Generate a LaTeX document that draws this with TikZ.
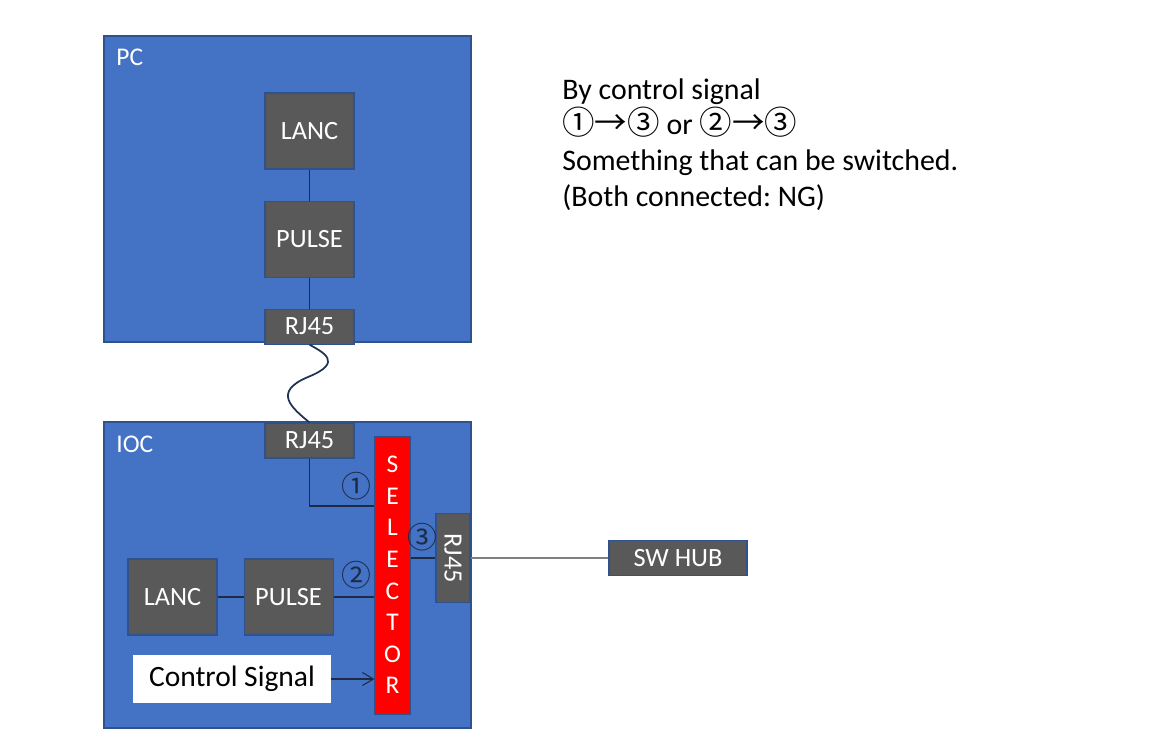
\documentclass[tikz,border=0pt]{standalone}
\usepackage{fontspec}
\setmainfont{Carlito}
\newfontfamily\circfont{Noto Sans CJK JP}
\usetikzlibrary{arrows.meta, positioning, calc}
\definecolor{devBlue}{HTML}{4472C4}
\definecolor{devEdge}{HTML}{2F528F}
\definecolor{modGray}{HTML}{595959}
\definecolor{selRed}{HTML}{FF0000}
\definecolor{wireDark}{HTML}{1F2A44}
\frenchspacing

\begin{document}
\begin{tikzpicture}[x=0.02cm, y=-0.02cm,
    device/.style={rectangle, draw=devEdge, fill=devBlue, line width=0.8pt,
                 minimum width=7.34cm, minimum height=6.12cm, inner sep=0pt},
    module/.style={rectangle, draw=devEdge, fill=modGray, line width=0.6pt,
                 minimum width=1.78cm, minimum height=1.52cm, inner sep=0pt,
                 font=\fontsize{15}{17}\selectfont\color{white}},
    port/.style={module, minimum height=0.7cm},
    devlabel/.style={anchor=west, inner sep=0pt,
                 font=\fontsize{14.5}{16}\selectfont\color{white}},
    numlabel/.style={inner sep=0pt, font=\circfont\fontsize{17}{19}\selectfont\color{wireDark}},
    wire/.style={draw=wireDark, line width=0.6pt},
  ]
    \useasboundingbox (0,0) rectangle (1152,748);

    % PC side
    \node[device] (pc) at (287.5,189) {};
    \node[devlabel] at (116,57) {PC};
    \node[module] (lanc1) at (309.5,131) {LANC};
    \node[module, below=0.62cm of lanc1] (pulse1) {PULSE};
    \node[port, below=0.62cm of pulse1] (rj1) {RJ45};
    \draw[wire] (lanc1) -- (pulse1);
    \draw[wire] (pulse1) -- (rj1);

    % IOC side
    \node[device] (ioc) at (287.5,575) {};
    \node[devlabel] at (116,444) {IOC};
    \node[port] (rj2) at (309.5,440.5) {RJ45};
    \node[rectangle, draw=devEdge, fill=selRed, line width=0.6pt,
          minimum width=0.7cm, minimum height=5.56cm, inner sep=0pt, align=center,
          font=\fontsize{14.5}{18}\selectfont\color{white}] (sel) at (392.5,575)
          {S\\E\\L\\E\\C\\T\\O\\R};
    \node[module] (lanc2) at (172.5,597) {LANC};
    \node[module, right=0.52cm of lanc2] (pulse2) {PULSE};
    \node[rectangle, fill=white, minimum width=3.96cm, minimum height=0.96cm,
          inner sep=0pt, font=\fontsize{16.8}{19}\selectfont] (ctrl) at (232,679)
          {Control Signal};
    \node[module, minimum width=0.68cm, minimum height=1.78cm] (rj3) at (453,558)
          {\rotatebox{-90}{RJ45}};
    \node[module, minimum width=2.76cm, minimum height=0.7cm] (hub) at (678,558)
          {SW HUB};

    % cable between the two RJ45
    \draw[wireDark!80!devEdge, line width=1pt] (rj1.south)
      .. controls (322,352) and (345,362) .. (308,377)
      .. controls (272,392) and (292,408) .. (rj2.north);

    \coordinate (y1) at (0,506);
    \draw[wire] (rj2.south) |- (sel.west |- y1);
    \draw[wire] (lanc2) -- (pulse2);
    \draw[wire] (pulse2.east) -- (pulse2.east -| sel.west);
    \draw[wire, -{Straight Barb[length=2.2mm, width=2.6mm]}] (ctrl.east) -- (ctrl.east -| sel.west);
    \draw[wire] (rj3.west -| sel.east) -- (rj3.west);
    \draw[draw=black!50, line width=0.6pt] (rj3.east) -- (hub.west);

    \node[numlabel] at (356,486) {①};
    \node[numlabel] at (356,575) {②};
    \node[numlabel] at (422,537) {③};

    % note
    \node[anchor=north west, inner sep=0pt, align=left,
          font=\fontsize{17}{20.4}\selectfont] (note) at (562,78)
      {By control signal\\
       {\circfont\fontsize{18.5}{20.4}\selectfont ①→③} or {\circfont\fontsize{18.5}{20.4}\selectfont ②→③}\\
       Something that can be switched.\\
       (Both connected: NG)};
  \end{tikzpicture}
\end{document}
